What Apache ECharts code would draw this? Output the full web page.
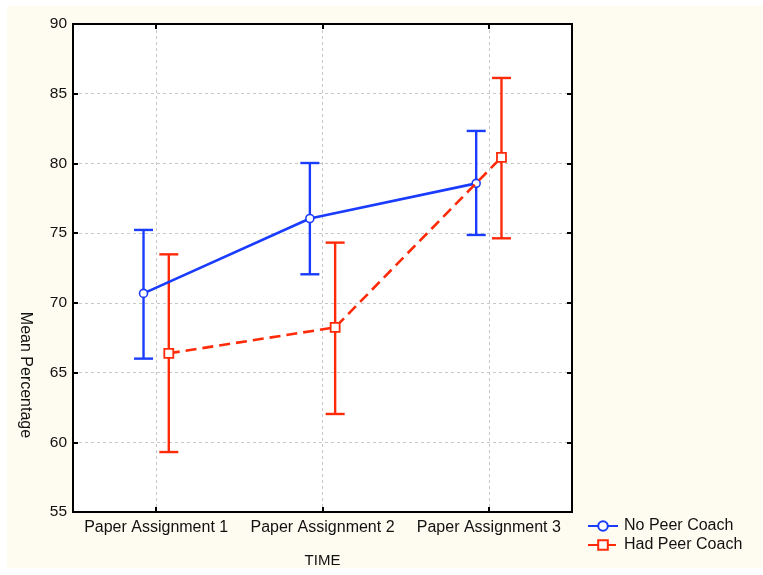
<!DOCTYPE html>
<html>
<head>
<meta charset="utf-8">
<style>
  html, body { margin: 0; padding: 0; background: #ffffff; }
  #chart { width: 763px; height: 575px; }
</style>
<script src="https://cdn.jsdelivr.net/npm/echarts@6/dist/echarts.min.js"></script>
</head>
<body>
<div id="chart"></div>
<script>
// Mean percentage by paper assignment, with error bars, for two coaching groups
const categories = ['Paper Assignment 1', 'Paper Assignment 2', 'Paper Assignment 3'];

const noCoachMean  = [70.68, 76.05, 78.57];
const noCoachLow   = [66.0, 72.05, 74.87];
const noCoachHigh  = [75.23, 80.03, 82.33];

const hadCoachMean = [66.38, 68.24, 80.44];
const hadCoachLow  = [59.3, 62.03, 74.63];
const hadCoachHigh = [73.48, 74.32, 86.13];

const yTicks = [55, 60, 65, 70, 75, 80, 85, 90];

const BLUE = '#1a3cff';
const RED = '#ff2a08';
const FONT = 'Liberation Sans, Arial, sans-serif';
// horizontal dodge of each group around its category centre (in category units)
const DODGE = 0.076;

const catIdx = categories.map((_, i) => i);
const pts = (means, shift) => means.map((m, i) => [i + shift, m]);
const bars = (low, high, shift) => low.map((l, i) => [i + shift, l, high[i]]);

function errorBar(color) {
  return function (params, api) {
    const x = api.value(0);
    const lo = api.coord([x, api.value(1)]);
    const hi = api.coord([x, api.value(2)]);
    const w = 9.5;
    const style = { stroke: color, lineWidth: 2.4, fill: null };
    return {
      type: 'group',
      children: [
        { type: 'line', shape: { x1: lo[0], y1: lo[1], x2: hi[0], y2: hi[1] }, style },
        { type: 'line', shape: { x1: lo[0] - w, y1: lo[1], x2: lo[0] + w, y2: lo[1] }, style },
        { type: 'line', shape: { x1: hi[0] - w, y1: hi[1], x2: hi[0] + w, y2: hi[1] }, style }
      ]
    };
  };
}

const tickStyle = { show: true, inside: true, length: 5, lineStyle: { color: '#000', width: 2 } };
const gridLine = { show: true, lineStyle: { color: '#c8c8c8', type: [3, 3], width: 1 } };
const frameLine = { show: true, onZero: false, lineStyle: { color: '#000', width: 2 } };

const chart = echarts.init(document.getElementById('chart'), null, { renderer: 'canvas' });

chart.setOption({
  animation: false,
  backgroundColor: '#ffffff',
  graphic: [
    { type: 'rect', z: -10, silent: true, shape: { x: 7, y: 6, width: 756, height: 562 }, style: { fill: '#fefcf0' } },
    { type: 'text', x: 25, y: 375, rotation: -Math.PI / 2,
      style: { text: 'Mean Percentage', font: '16px ' + FONT, fill: '#111', align: 'center', verticalAlign: 'middle' } }
  ],
  grid: {
    left: 73, top: 24, right: 191, bottom: 63,
    show: true, backgroundColor: '#ffffff', borderColor: '#000', borderWidth: 2
  },
  legend: {
    orient: 'vertical',
    left: 582, top: 513,
    itemWidth: 30, itemHeight: 12, itemGap: 3,
    textStyle: { fontFamily: FONT, fontSize: 16, color: '#111', padding: [0, 0, 0, 1] },
    data: ['No Peer Coach', 'Had Peer Coach']
  },
  xAxis: [
    {
      type: 'value', min: -0.5, max: 2.5,
      name: 'TIME', nameLocation: 'middle', nameGap: 41,
      nameTextStyle: { fontFamily: FONT, fontSize: 15, color: '#111' },
      axisLine: frameLine,
      axisTick: Object.assign({ customValues: catIdx }, tickStyle),
      axisLabel: {
        customValues: catIdx, margin: 8,
        fontFamily: FONT, fontSize: 16, color: '#111',
        formatter: v => categories[Math.round(v)]
      },
      splitLine: gridLine
    },
    {
      type: 'value', min: -0.5, max: 2.5, position: 'top',
      axisLine: frameLine,
      axisTick: Object.assign({ customValues: catIdx }, tickStyle),
      axisLabel: { show: false, customValues: catIdx },
      splitLine: { show: false }
    }
  ],
  yAxis: [
    {
      type: 'value', min: 55, max: 90, interval: 5,
      axisLine: frameLine,
      axisTick: tickStyle,
      axisLabel: { margin: 6, fontFamily: FONT, fontSize: 15.5, color: '#111',
        formatter: v => (yTicks.indexOf(v) >= 0 ? String(v) : '') },
      splitLine: gridLine
    },
    {
      type: 'value', min: 55, max: 90, interval: 5, position: 'right',
      axisLine: frameLine,
      axisTick: tickStyle,
      axisLabel: { show: false },
      splitLine: { show: false }
    }
  ],
  series: [
    {
      name: 'No Peer Coach', type: 'line', data: pts(noCoachMean, -DODGE),
      color: BLUE, symbol: 'circle', symbolSize: 8, showAllSymbol: true,
      lineStyle: { color: BLUE, width: 2.6 },
      itemStyle: { color: '#ffffff', borderColor: BLUE, borderWidth: 1.6 },
      z: 3
    },
    {
      name: 'Had Peer Coach', type: 'line', data: pts(hadCoachMean, DODGE),
      color: RED, symbol: 'rect', symbolSize: 9, showAllSymbol: true,
      lineStyle: { color: RED, width: 2.6, type: [11, 6] },
      itemStyle: { color: '#ffffff', borderColor: RED, borderWidth: 1.8 },
      z: 4
    },
    {
      name: 'No Peer Coach range', type: 'custom', renderItem: errorBar(BLUE),
      data: bars(noCoachLow, noCoachHigh, -DODGE), z: 2, silent: true
    },
    {
      name: 'Had Peer Coach range', type: 'custom', renderItem: errorBar(RED),
      data: bars(hadCoachLow, hadCoachHigh, DODGE), z: 2, silent: true
    }
  ]
});
</script>
</body>
</html>
